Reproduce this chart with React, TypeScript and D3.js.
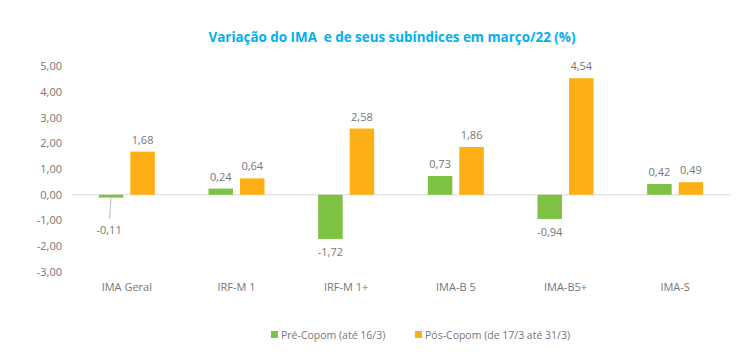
import React from "react";
import * as d3 from "d3";

const categories = ["IMA Geral", "IRF-M 1", "IRF-M 1+", "IMA-B 5", "IMA-B5+", "IMA-S"];
const preCopom = [-0.11, 0.24, -1.72, 0.73, -0.94, 0.42];
const posCopom = [1.68, 0.64, 2.58, 1.86, 4.54, 0.49];
const yTicks = [5, 4, 3, 2, 1, 0, -1, -2, -3];
const seriesNames = ["Pré-Copom (até 16/3)", "Pós-Copom (de 17/3 até 31/3)"];
const colors = ["#7DC242", "#FDB015"];

const W = 750;
const H = 356;
const FONT = "'Open Sans', 'Noto Sans', sans-serif";
const TXT = "#767676";

const fmt = (v: number) => v.toFixed(2).replace(".", ",");

export default function App() {
  const x = d3.scaleBand<string>().domain(categories).range([72, 730]).padding(0);
  const y = d3.scaleLinear().domain([-3, 5]).range([271.8, 66.4]);
  const barW = 24.5;
  const gap = 7;
  const y0 = y(0);

  const bars: React.ReactNode[] = [];
  categories.forEach((c, i) => {
    const cx = (x(c) as number) + x.bandwidth() / 2;
    [preCopom[i], posCopom[i]].forEach((v, s) => {
      const bx = s === 0 ? cx - gap / 2 - barW : cx + gap / 2;
      const top = Math.min(y(v), y0);
      const h = Math.abs(y(v) - y0);
      bars.push(
        <rect key={`b${i}-${s}`} x={bx} y={top} width={barW} height={Math.max(h, 1)} fill={colors[s]} />
      );
      const lx = bx + barW / 2;
      if (v >= 0) {
        bars.push(
          <text key={`l${i}-${s}`} x={lx} y={y(v) - 8} textAnchor="middle" fontSize={11} fill={TXT} fontFamily={FONT}>
            {fmt(v)}
          </text>
        );
      } else if (Math.abs(v) < 0.3) {
        bars.push(
          <line key={`ll${i}-${s}`} x1={lx} y1={y0 + 3} x2={lx - 1.5} y2={y0 + 24} stroke="#BFBFBF" strokeWidth={1} />
        );
        bars.push(
          <text key={`l${i}-${s}`} x={lx - 2} y={y0 + 39} textAnchor="middle" fontSize={11} fill={TXT} fontFamily={FONT}>
            {fmt(v)}
          </text>
        );
      } else {
        bars.push(
          <text key={`l${i}-${s}`} x={lx} y={y(v) + 17} textAnchor="middle" fontSize={11} fill={TXT} fontFamily={FONT}>
            {fmt(v)}
          </text>
        );
      }
    });
  });

  return (
    <svg width={W} height={H} style={{ position: "absolute", left: 0, top: 0, background: "#fff" }}>
      <rect width={W} height={H} fill="#fff" />
      <text x={392} y={42} textAnchor="middle" fontSize={13.4} fontWeight={700} fill="#00B0F0" fontFamily={FONT} style={{ whiteSpace: "pre" }}>
        {"Variação do IMA  e de seus subíndices em março/22 (%)"}
      </text>
      {yTicks.map((t) => (
        <text key={t} x={62} y={y(t) + 4} textAnchor="end" fontSize={11} fill={TXT} fontFamily={FONT}>
          {fmt(t)}
        </text>
      ))}
      <line x1={72} x2={730} y1={y0} y2={y0} stroke="#D9D9D9" strokeWidth={1} />
      {bars}
      {categories.map((c) => (
        <text key={c} x={(x(c) as number) + x.bandwidth() / 2} y={291} textAnchor="middle" fontSize={11} fill={TXT} fontFamily={FONT}>
          {c}
        </text>
      ))}
      <g>
        <rect x={271} y={331} width={7} height={7} fill={colors[0]} />
        <text x={281} y={338.5} fontSize={10.5} fill={TXT} fontFamily={FONT}>{seriesNames[0]}</text>
        <rect x={415} y={331} width={7} height={7} fill={colors[1]} />
        <text x={425} y={338.5} fontSize={10.5} fill={TXT} fontFamily={FONT}>{seriesNames[1]}</text>
      </g>
    </svg>
  );
}
